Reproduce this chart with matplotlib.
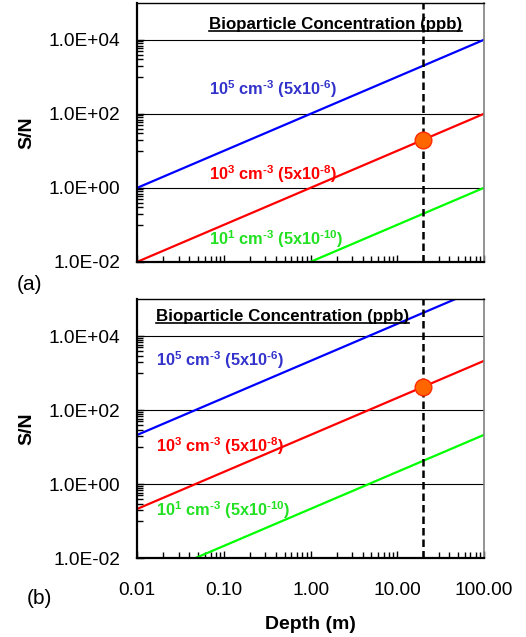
import matplotlib
matplotlib.use("Agg")
import matplotlib.pyplot as plt
from matplotlib.lines import Line2D
from matplotlib.ticker import FixedLocator, NullFormatter

plt.rcParams['font.family'] = ['Liberation Sans', 'DejaVu Sans']
plt.rcParams['mathtext.fontset'] = 'custom'
plt.rcParams['mathtext.rm'] = 'Liberation Sans'
plt.rcParams['mathtext.bf'] = 'Liberation Sans:bold'

# depth (m) at decade points, S/N
depth = [0.01, 0.1, 1, 10, 100]

# panel (a)
sn_a_1e5 = [1, 10, 100, 1000, 10000]
sn_a_1e3 = [0.01, 0.1, 1, 10, 100]
sn_a_1e1 = [1e-4, 1e-3, 0.01, 0.1, 1]

# panel (b)
sn_b_1e5 = [21.7, 217, 2170, 21700, 217000]
sn_b_1e3 = [0.217, 2.17, 21.7, 217, 2170]
sn_b_1e1 = [0.00217, 0.0217, 0.217, 2.17, 21.7]

marker_depth = 20
marker_sn_a = 20
marker_sn_b = 434

x_ticks = [0.01, 0.1, 1, 10, 100]
x_ticklabels = ["0.01", "0.10", "1.00", "10.00", "100.00"]
y_ticks = [1e-2, 1, 1e2, 1e4]
y_ticklabels = ["1.0E-02", "1.0E+00", "1.0E+02", "1.0E+04"]

# U+2010 hyphen keeps the short dash of the original (mathtext turns "-" into a minus)
curve_labels = [
    "10$^{\\mathbf{5}}$ cm$^{\\mathbf{\u20103}}$ (5x10$^{\\mathbf{\u20106}}$)",
    "10$^{\\mathbf{3}}$ cm$^{\\mathbf{\u20103}}$ (5x10$^{\\mathbf{\u20108}}$)",
    "10$^{\\mathbf{1}}$ cm$^{\\mathbf{\u20103}}$ (5x10$^{\\mathbf{\u201010}}$)",
]
line_colors = ["#0000ff", "#ff0000", "#00ff00"]
label_colors = ["#3333cc", "#ff0000", "#22e022"]

fig = plt.figure(figsize=(5.26, 6.37), dpi=100)
ax_a = fig.add_axes([0.261, 0.589, 0.659, 0.4066])
ax_b = fig.add_axes([0.261, 0.1235, 0.659, 0.4066])

minor_y = [k * 10.0 ** e for e in (-2, 0, 2) for k in range(10, 100, 10)]

panels = [
    (ax_a, [sn_a_1e5, sn_a_1e3, sn_a_1e1], marker_sn_a,
     0.207, [0.667, 0.338, 0.088], 0.918),
    (ax_b, [sn_b_1e5, sn_b_1e3, sn_b_1e1], marker_sn_b,
     0.053, [0.766, 0.435, 0.186], 0.933),
]

titles = []
for ax, series, msn, lx, lys, ty in panels:
    ax.set_xscale('log')
    ax.set_yscale('log')
    ax.set_axisbelow(True)
    for s, c in zip(series, line_colors):
        ax.plot(depth, s, color=c, lw=1.6)
    ax.axvline(marker_depth, color='black', ls=(0, (3, 1.6)), lw=1.8)
    ax.plot([marker_depth], [msn], 'o', ms=12, mfc='#ff6600', mec='#ff2a00', mew=1)
    ax.set_xlim(0.01, 100)
    ax.set_ylim(1e-2, 1e5)

    ax.yaxis.set_major_locator(FixedLocator(y_ticks))
    ax.set_yticklabels(y_ticklabels)
    ax.yaxis.set_minor_locator(FixedLocator(minor_y))
    ax.yaxis.set_minor_formatter(NullFormatter())
    ax.set_xticks(x_ticks)
    ax.xaxis.set_minor_formatter(NullFormatter())
    ax.grid(True, axis='y', which='major', color='black', lw=0.8)

    ax.tick_params(which='both', direction='in', top=False, right=False,
                   width=1, colors='black')
    ax.tick_params(which='major', length=5, labelsize=13.8, pad=12)
    ax.tick_params(which='minor', length=4)
    ax.tick_params(axis='x', which='major', pad=17)

    ax.spines['left'].set_linewidth(1.6)
    ax.spines['bottom'].set_linewidth(1.6)
    ax.spines['top'].set_linewidth(1)
    ax.spines['right'].set_color('#808080')
    ax.spines['right'].set_linewidth(1.2)

    ax.set_ylabel("S/N", fontsize=14, fontweight='bold', labelpad=10)

    for txt, c, ly in zip(curve_labels, label_colors, lys):
        ax.text(lx, ly, txt, transform=ax.transAxes, color=c, fontsize=11.8,
                fontweight='bold', ha='left', va='center')
    titles.append(ax.text(lx, ty, "Bioparticle Concentration (ppb)",
                          transform=ax.transAxes, fontsize=12.2,
                          fontweight='bold', ha='left', va='center'))

ax_a.tick_params(axis='x', labelbottom=False)
ax_b.set_xticklabels(x_ticklabels)
ax_b.set_xlabel("Depth (m)", fontsize=14, fontweight='bold', labelpad=12)

fig.text(17 / 526, 1 - 285 / 637, "(a)", fontsize=15, ha='left', va='center')
fig.text(27 / 526, 1 - 598 / 637, "(b)", fontsize=15, ha='left', va='center')

# underline the titles
fig.canvas.draw()
inv = fig.transFigure.inverted()
for t in titles:
    bb = t.get_window_extent()
    (x0, y0), (x1, _) = inv.transform([(bb.x0, bb.y0 + 1), (bb.x1, bb.y0 + 1)])
    fig.add_artist(Line2D([x0, x1], [y0, y0], color='black', lw=1.2))

fig.savefig("out.png", dpi=100)
